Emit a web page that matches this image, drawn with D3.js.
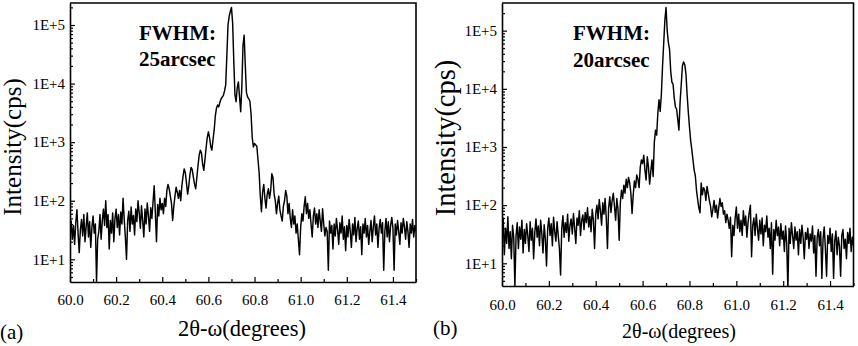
<!DOCTYPE html>
<html><head><meta charset="utf-8">
<script src="https://cdn.jsdelivr.net/npm/d3@7"></script>
<style>body{margin:0;background:#fff}svg{display:block}svg text{font-family:'Liberation Serif','Times New Roman',serif}</style>
</head><body><svg id="c" width="858" height="346"></svg>
<script>
// scan grid (2θ-ω, degrees)
const scanStart = 60.0, scanStep = 0.005;
const xMajorTicks = [60.0, 60.2, 60.4, 60.6, 60.8, 61.0, 61.2, 61.4];
const xMinorTicks = [60.1, 60.3, 60.5, 60.7, 60.9, 61.1, 61.3, 61.5];
const yDecades = [10, 100, 1000, 10000, 100000];
const yTickLabels = ["1E+1", "1E+2", "1E+3", "1E+4", "1E+5"];
const panelLabels = ["(a)", "(b)"];
const fwhmTitle = "FWHM:";
const fwhmValues = ["25arcsec", "20arcsec"];
const xTitle = "2θ-ω(degrees)";
const yTitle = "Intensity(cps)";

// intensity (cps), panel (a)
const intensityA = [
30,45,22,38,18,42,70,28,13,32,
48,25,58,20,36,62,24,44,16,35,
55,28,40,4.2,22,30,58,22,46,72,
38,100,35,58,15,46,28,62,20,50,
72,35,58,26,64,40,110,48,24,10,
46,66,30,78,40,56,26,72,44,100,
62,34,82,45,24,72,40,92,55,30,
76,50,96,180,62,20,86,55,110,70,
90,60,110,80,150,190,160,120,90,46,
80,120,170,140,110,150,100,180,260,350,
300,200,130,180,280,370,340,250,190,160,
250,400,600,730,650,420,330,500,800,1200,
1500,1200,850,730,1100,1600,2800,3800,4300,4000,
4800,5500,5900,6300,7500,9500,30000,100000,140000,170000,
200000,110000,25000,6500,4900,8500,10700,6000,3300,9000,
45000,67000,20000,7000,5900,5500,5000,3000,1200,830,
950,900,850,500,300,120,65,140,190,110,
75,130,160,110,150,290,250,130,100,60,
90,120,70,55,45,80,100,150,120,60,
90,50,35,70,40,55,28,40,22,12,
35,60,45,80,117,60,90,50,70,40,
24,55,75,40,60,35,70,45,30,73,
40,25,35,30,6.5,45,28,38,15,40,
25,50,32,18,42,28,55,22,36,14,
38,24,48,30,16,40,26,52,20,34,
45,22,36,12,40,28,50,24,38,18,
30,46,20,36,55,26,40,16,34,48,
28,42,6.5,30,50,24,44,20,38,52,
34,6.5,40,26,46,30,18,42,28,50,
36,22,44,30,16,40,28,48,24,38,
30];

// intensity (cps), panel (b)
const intensityB = [
25,60,14,40,22,63,18,35,12,45,
28,4.0,30,50,18,42,26,55,15,38,
22,48,30,16,52,25,40,12,34,58,
28,44,20,55,32,15,46,26,9,40,
60,30,48,20,62,35,24,52,30,18,
6.3,40,66,28,50,34,70,24,45,58,
32,72,40,22,60,45,80,30,55,68,
38,75,50,90,42,64,35,85,55,18,
70,100,58,125,80,45,110,70,130,60,
18,90,140,75,120,160,95,55,130,85,
25,110,180,130,220,160,280,200,300,240,
160,72,150,260,200,330,280,200,450,600,
520,720,400,270,680,450,230,380,600,310,
1200,1950,1600,3800,6500,4100,8000,24000,60000,150000,
250000,100000,62000,48000,20000,13000,12000,7000,4900,4500,
3000,1950,6000,12000,25000,29000,26000,18000,8000,4000,
2200,1300,900,600,400,320,180,125,90,74,
240,150,200,180,120,210,160,120,95,63,
85,120,75,100,60,90,130,95,110,70,
80,50,70,55,40,62,13,45,30,60,
93,40,70,35,55,30,80,45,65,28,
50,75,100,13,45,60,30,70,40,25,
55,32,60,20,45,35,65,28,40,18,
50,6.5,38,25,55,30,42,20,48,26,
36,16,44,22,3.5,40,22,50,30,18,
42,25,35,14,38,22,45,28,12,34,
26,40,18,32,24,44,15,30,6,28,
38,20,35,5.5,26,42,18,6,30,22,
40,16,32,5.5,24,36,14,28,20,6,
30,38,18,26,12,34,22,40,16,28,
20];

const panels = [
  {data: intensityA, label: panelLabels[0], fwhm: fwhmValues[0],
   x0: 70, x1: 416, y0: 3, y1: 282, yDom: [4.1, 237500],
   yTitleX: 21, yTitleY: 147, yTitleSize: 25,
   xTitleX: 242, xTitleY: 336, xTitleSize: 22.5,
   tickLabelDy: 23, fwhmX: 139, fwhmY1: 39.5, fwhmY2: 66,
   labX: 0, labY: 339},
  {data: intensityB, label: panelLabels[1], fwhm: fwhmValues[1],
   x0: 502, x1: 853.5, y0: 3, y1: 286, yDom: [4.07, 299000],
   yTitleX: 455, yTitleY: 138, yTitleSize: 28.5,
   xTitleX: 679, xTitleY: 338, xTitleSize: 20,
   tickLabelDy: 24, fwhmX: 573, fwhmY1: 40, fwhmY2: 66.5,
   labX: 433, labY: 335}
];

const svg = d3.select("#c");
const serif = "'Liberation Serif','Times New Roman',serif";

panels.forEach((p, pi) => {
  const x = d3.scaleLinear().domain([60.0, 61.5]).range([p.x0, p.x1]);
  const y = d3.scaleLog().domain(p.yDom).range([p.y1, p.y0]);
  const g = svg.append("g");

  const clipId = "clip" + pi;
  svg.append("clipPath").attr("id", clipId).append("rect")
    .attr("x", p.x0).attr("y", p.y0).attr("width", p.x1 - p.x0).attr("height", p.y1 - p.y0);

  const line = d3.line()
    .x((d, i) => x(scanStart + i * scanStep))
    .y(d => y(d));
  g.append("path").datum(p.data)
    .attr("clip-path", `url(#${clipId})`)
    .attr("d", line).attr("fill", "none").attr("stroke", "#000")
    .attr("stroke-width", 1.45).attr("stroke-linejoin", "round");

  // x axis
  const xa = g.append("g").attr("transform", `translate(0,${p.y1})`)
    .call(d3.axisBottom(x).tickValues(xMajorTicks).tickFormat(d3.format(".1f"))
      .tickSizeInner(-5).tickSizeOuter(0).tickPadding(p.tickLabelDy - 11));
  g.append("g").attr("transform", `translate(0,${p.y1})`)
    .call(d3.axisBottom(x).tickValues(xMinorTicks).tickFormat("").tickSizeInner(-3).tickSizeOuter(0))
    .select(".domain").remove();

  // y axis
  const ya = g.append("g").attr("transform", `translate(${p.x0},0)`)
    .call(d3.axisLeft(y).tickValues(yDecades).tickFormat((d, i) => yTickLabels[i])
      .tickSizeInner(-5).tickSizeOuter(0).tickPadding(5));
  const minor = [];
  [1, 10, 100, 1000, 10000, 100000].forEach(dec => {
    for (let k = 2; k <= 9; k++) { const v = dec * k; if (v >= p.yDom[0] && v <= p.yDom[1]) minor.push(v); }
  });
  g.append("g").attr("transform", `translate(${p.x0},0)`)
    .call(d3.axisLeft(y).tickValues(minor).tickFormat("").tickSizeInner(-3).tickSizeOuter(0))
    .select(".domain").remove();

  [xa, ya].forEach(a => {
    a.attr("font-family", null);
    a.selectAll("text").style("font-family", serif).attr("font-size", 15).attr("fill", "#000");
  });
  g.selectAll(".tick line").attr("stroke", "#000").attr("stroke-width", 1.2);
  g.selectAll(".domain").attr("stroke", "#000").attr("stroke-width", 1.6);

  // frame top & right
  g.append("path").attr("d", `M${p.x0},${p.y0}H${p.x1}V${p.y1}`)
    .attr("fill", "none").attr("stroke", "#000").attr("stroke-width", 1.6);

  // titles
  g.append("text").attr("transform", `translate(${p.yTitleX},${p.yTitleY}) rotate(-90)`)
    .attr("text-anchor", "middle").attr("font-size", p.yTitleSize)
    .text(yTitle);
  g.append("text").attr("x", p.xTitleX).attr("y", p.xTitleY).attr("text-anchor", "middle")
    .attr("font-size", p.xTitleSize).text(xTitle);
  g.append("text").attr("x", p.labX).attr("y", p.labY)
    .attr("font-size", 21).text(p.label);

  g.append("text").attr("x", p.fwhmX).attr("y", p.fwhmY1)
    .attr("font-weight", "bold").attr("font-size", 21).text(fwhmTitle);
  g.append("text").attr("x", p.fwhmX).attr("y", p.fwhmY2)
    .attr("font-weight", "bold").attr("font-size", 21).text(p.fwhm);
});
</script></body></html>
